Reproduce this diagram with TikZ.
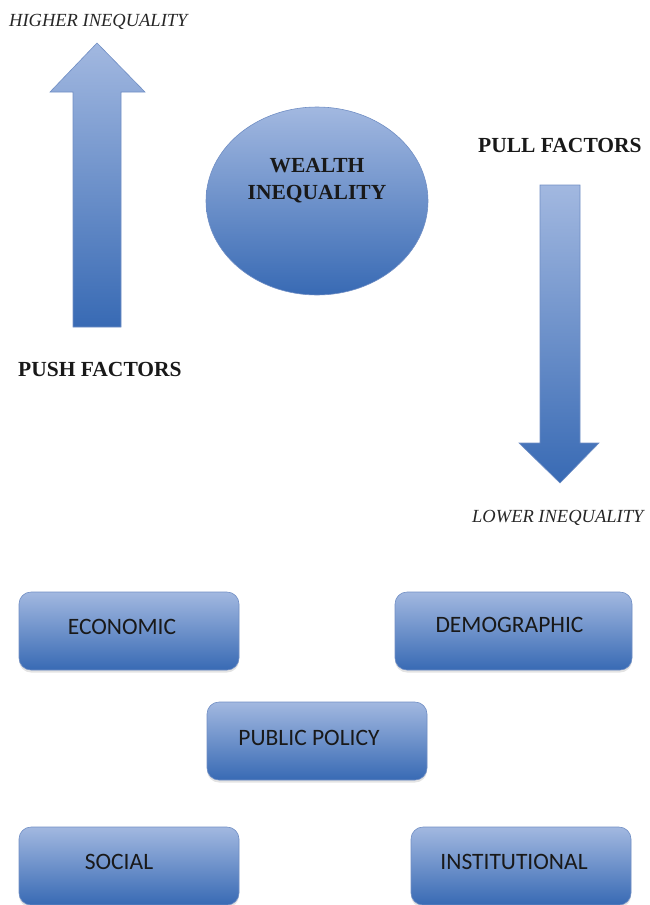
\documentclass[tikz,border=0pt]{standalone}
\usepackage{fontspec}
\setmainfont{Liberation Serif}
\newfontfamily\boxfont{Carlito}
\usetikzlibrary{shadows,shapes.geometric}
\definecolor{shadetop}{RGB}{162,184,224}
\definecolor{shadebot}{RGB}{56,106,180}
\definecolor{rim}{RGB}{112,142,196}
\tikzset{
  blueshade/.style={top color=shadetop, bottom color=shadebot, draw=rim, line width=0.6pt},
  factorbox/.style={blueshade, rounded corners=12pt, minimum height=78pt, inner sep=0pt,
    drop shadow={opacity=0.22, shadow xshift=0pt, shadow yshift=-2.5pt}},
  boxtext/.style={font=\boxfont\fontsize{23.5}{25}\selectfont, text=black!90, inner sep=0pt},
  heading/.style={font=\bfseries\fontsize{21.5}{24}\selectfont, text=black!90, inner sep=0pt},
  endlabel/.style={font=\itshape\fontsize{18.5}{20}\selectfont, text=black!85, inner sep=0pt},
}
\begin{document}
\begin{tikzpicture}[x=1pt, y=-1pt]
  \useasboundingbox (0,0) rectangle (650,905);

  % upward arrow (push factors)
  \path[blueshade] (73,327) -- (73,92) -- (50,92) -- (97,43) -- (145,92)
    -- (121,92) -- (121,327) -- cycle;
  % downward arrow (pull factors)
  \path[blueshade] (540,185) -- (580,185) -- (580,443) -- (599,443)
    -- (560,483) -- (519,443) -- (540,443) -- cycle;

  % central ellipse
  \node[ellipse, blueshade, minimum width=222pt, minimum height=188pt, inner sep=0pt]
    (wealth) at (317,201) {};
  \node[heading, align=center, font=\bfseries\fontsize{21.5}{27}\selectfont]
    (wealthtext) at (317,181) {WEALTH\\INEQUALITY};

  % labels
  \node[endlabel, anchor=base west] (higher) at (9,26) {HIGHER INEQUALITY};
  \node[endlabel, anchor=base west] (lower) at (472,522) {LOWER INEQUALITY};
  \node[heading, anchor=base west] (push) at (18,376) {PUSH FACTORS};
  \node[heading, anchor=base west] (pull) at (478,152) {PULL FACTORS};

  % factor boxes
  \node[factorbox, minimum width=220pt] (economic) at (129,631) {};
  \node[factorbox, minimum width=237pt] (demographic) at (513.5,631) {};
  \node[factorbox, minimum width=220pt] (policy) at (317,741) {};
  \node[factorbox, minimum width=220pt] (social) at (129,866) {};
  \node[factorbox, minimum width=220pt] (institutional) at (521,866) {};

  % box captions, set a little left of and above each box centre
  \node[boxtext] (economictext) at ([shift={(-7,-4)}]economic.center) {ECONOMIC};
  \node[boxtext] (demographictext) at ([shift={(-4,-6)}]demographic.center) {DEMOGRAPHIC};
  \node[boxtext] (policytext) at ([shift={(-8,-3)}]policy.center) {PUBLIC POLICY};
  \node[boxtext] (socialtext) at ([shift={(-10,-4)}]social.center) {SOCIAL};
  \node[boxtext] (institutionaltext) at ([shift={(-7,-4)}]institutional.center) {INSTITUTIONAL};
\end{tikzpicture}
\end{document}
